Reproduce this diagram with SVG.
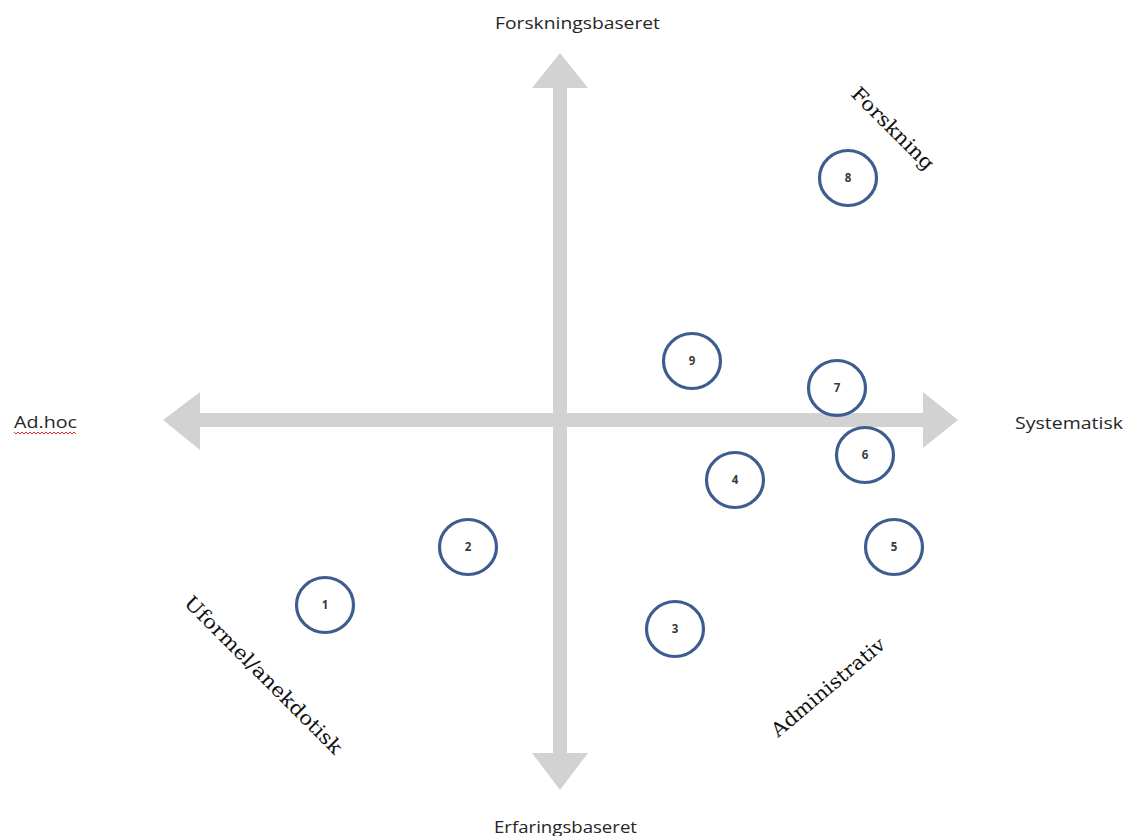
<svg xmlns="http://www.w3.org/2000/svg" width="1133" height="836" viewBox="0 0 1133 836">
<style>
.axis{fill:#d2d2d2;stroke:none}
.node ellipse{fill:none;stroke:#3d5d8f;stroke-width:3.2}
.num{font-family:"Open Sans","Liberation Sans",sans-serif;font-size:11.5px;font-weight:bold;fill:#3a3a3a;text-anchor:middle}
.lbl{font-family:"Open Sans","Liberation Sans",sans-serif;font-size:17px;fill:#262626}
.diag{font-family:"DejaVu Serif","Liberation Serif",serif;font-size:19.5px;fill:#111}
</style>
<rect width="1133" height="836" fill="#fff"/>
<g id="connectors">
<polygon class="axis" points="560,53 588,88 567,88 567,753 588,753 560,790 532,753 553,753 553,88 532,88"/>
<polygon class="axis" points="163,420 200,392 200,413 923,413 923,392 958,420 923,448 923,427 200,427 200,450"/>
</g>
<g id="axis-labels">
<text class="lbl" x="495" y="29" textLength="165" lengthAdjust="spacingAndGlyphs">Forskningsbaseret</text>
<text class="lbl" x="494" y="833" textLength="143" lengthAdjust="spacingAndGlyphs">Erfaringsbaseret</text>
<text class="lbl" x="14" y="428" textLength="63" lengthAdjust="spacingAndGlyphs">Ad.hoc</text>
<path d="M14,432 l2,2 l2,-2 l2,2 l2,-2 l2,2 l2,-2 l2,2 l2,-2 l2,2 l2,-2 l2,2 l2,-2 l2,2 l2,-2 l2,2 l2,-2 l2,2 l2,-2 l2,2 l2,-2 l2,2 l2,-2 l2,2 l2,-2 l2,2 l2,-2 l2,2 l2,-2 l2,2 l2,-2 l2,2" fill="none" stroke="#e03030" stroke-width="1"/>
<text class="lbl" x="1015" y="429" textLength="108" lengthAdjust="spacingAndGlyphs">Systematisk</text>
</g>
<g id="quadrant-labels">
<text class="diag" transform="translate(850,95) rotate(45)" textLength="108" lengthAdjust="spacingAndGlyphs">Forskning</text>
<text class="diag" transform="translate(183,604) rotate(45)" textLength="214" lengthAdjust="spacingAndGlyphs">Uformel/anekdotisk</text>
<text class="diag" transform="translate(778,738) rotate(-40)" textLength="142" lengthAdjust="spacingAndGlyphs">Administrativ</text>
</g>
<g id="node-1" class="node"><ellipse cx="325" cy="605" rx="28.5" ry="27.5"/><text class="num" x="325" y="609">1</text></g>
<g id="node-2" class="node"><ellipse cx="468" cy="547" rx="28.5" ry="27.5"/><text class="num" x="468" y="551">2</text></g>
<g id="node-3" class="node"><ellipse cx="675" cy="629" rx="28.5" ry="27.5"/><text class="num" x="675" y="633">3</text></g>
<g id="node-4" class="node"><ellipse cx="735" cy="480" rx="28.5" ry="27.5"/><text class="num" x="735" y="484">4</text></g>
<g id="node-5" class="node"><ellipse cx="894" cy="547" rx="28.5" ry="27.5"/><text class="num" x="894" y="551">5</text></g>
<g id="node-6" class="node"><ellipse cx="865" cy="455" rx="28.5" ry="27.5"/><text class="num" x="865" y="459">6</text></g>
<g id="node-7" class="node"><ellipse cx="837" cy="388" rx="28.5" ry="27.5"/><text class="num" x="837" y="392">7</text></g>
<g id="node-8" class="node"><ellipse cx="848" cy="178" rx="28.5" ry="27.5"/><text class="num" x="848" y="182">8</text></g>
<g id="node-9" class="node"><ellipse cx="692" cy="361" rx="28.5" ry="27.5"/><text class="num" x="692" y="365">9</text></g>
</svg>
